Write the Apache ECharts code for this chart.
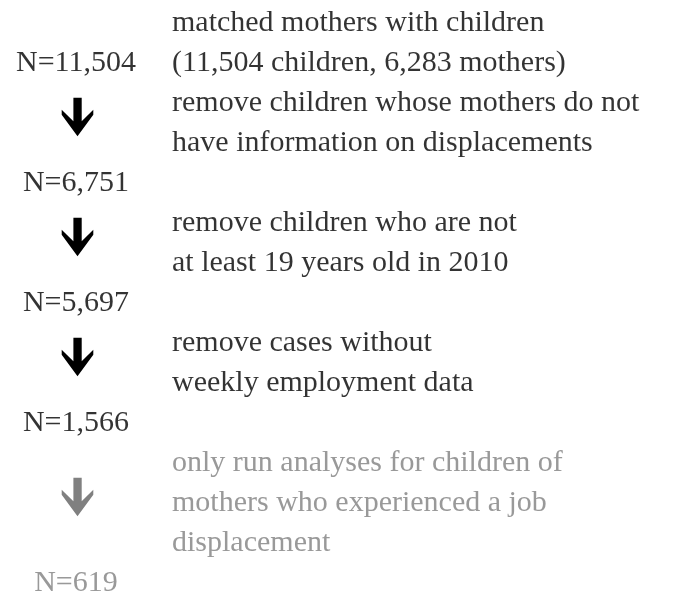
<!DOCTYPE html>
<html>
<head>
<meta charset="utf-8">
<style>
  html, body { margin: 0; padding: 0; background: #ffffff; }
  #chart { width: 679px; height: 596px; }
</style>
<script src="https://cdn.jsdelivr.net/npm/echarts@6/dist/echarts.min.js"></script>
</head>
<body>
<div id="chart"></div>
<script>
// ---- data ----
var sampleSizes = [11504, 6751, 5697, 1566, 619];
var stepLines = [
  ["matched mothers with children", "(11,504 children, 6,283 mothers)"],
  ["remove children whose mothers do not", "have information on displacements"],
  ["remove children who are not", "at least 19 years old in 2010"],
  ["remove cases without", "weekly employment data"],
  ["only run analyses for children of", "mothers who experienced a job", "displacement"]
];
var highlighted = [true, true, true, true, false]; // last step is shown in grey
var columns = ["N", "step"];

// ---- layout (in text-row units) ----
var ROW_PX = 40;
var FIRST_ROW_PX = 23;
var H = 596;
var nRows = [];
var stepRows = [];
var arrowRows = [];
(function () {
  var first = 0;
  stepRows.push(first + (stepLines[0].length - 1) / 2);
  nRows.push(first + stepLines[0].length - 1);
  for (var i = 1; i < stepLines.length; i++) {
    var start = nRows[i - 1] + 1;
    var last = start + stepLines[i].length - 1;
    stepRows.push((start + last) / 2);
    nRows.push(last + 1);
    arrowRows.push((nRows[i - 1] + nRows[i]) / 2 - 0.15);
  }
})();

var BLACK = "#000000";
var GREY = "#808080";
function colorFor(i) { return highlighted[i] ? BLACK : GREY; }
var FONT = "Liberation Serif";
var FS = 30;

var arrowPath = "path://M11.7 0 H20 V23.7 L31.6 12 V17 L15.8 38.7 L0 17 V12 L11.7 23.7 Z";

var chart = echarts.init(document.getElementById("chart"), null, { renderer: "canvas" });
chart.setOption({
  animation: false,
  backgroundColor: "#ffffff",
  grid: { left: 28, width: 192, top: 0, bottom: 0, containLabel: false },
  xAxis: { type: "category", data: columns, show: false, boundaryGap: true },
  yAxis: {
    type: "value", inverse: true, show: false,
    min: -FIRST_ROW_PX / ROW_PX,
    max: (H - FIRST_ROW_PX) / ROW_PX
  },
  series: [
    {
      name: "sample size",
      type: "scatter",
      symbolSize: 0,
      silent: true,
      clip: false,
      data: sampleSizes.map(function (n, i) {
        return {
          value: ["N", nRows[i], n],
          label: { color: colorFor(i) }
        };
      }),
      label: {
        show: true,
        position: "inside",
        color: BLACK,
        textBorderWidth: 0,
        fontFamily: FONT,
        fontSize: FS,
        formatter: function (p) { return "N=" + p.value[2].toLocaleString("en-US"); }
      }
    },
    {
      name: "arrows",
      type: "scatter",
      symbol: arrowPath,
      symbolSize: [31.6, 38.7],
      symbolOffset: [1.5, 0],
      silent: true,
      clip: false,
      itemStyle: { opacity: 1 },
      data: arrowRows.map(function (r, k) {
        return { value: ["N", r], itemStyle: { color: colorFor(k + 1), opacity: 1 } };
      })
    },
    {
      name: "steps",
      type: "scatter",
      symbolSize: 0,
      silent: true,
      clip: false,
      data: stepLines.map(function (lines, i) {
        return {
          value: ["step", stepRows[i]],
          text: lines.join("\n"),
          label: { color: colorFor(i) }
        };
      }),
      label: {
        show: true,
        position: "right",
        distance: 0,
        align: "left",
        verticalAlign: "middle",
        color: BLACK,
        textBorderWidth: 0,
        fontFamily: FONT,
        fontSize: FS,
        lineHeight: ROW_PX,
        formatter: function (p) { return p.data.text; }
      }
    }
  ]
});
</script>
</body>
</html>
